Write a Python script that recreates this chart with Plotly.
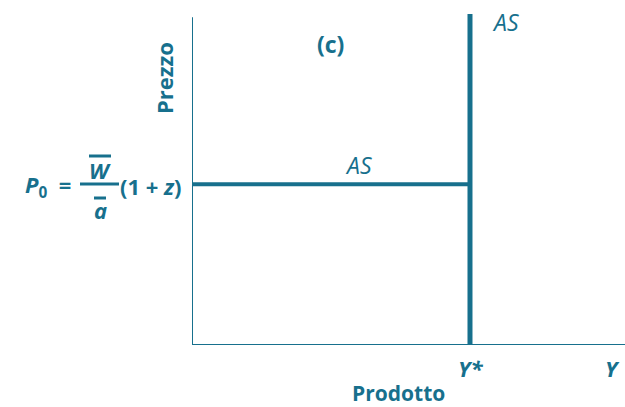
import plotly.graph_objects as go

TEAL = "#17708d"
FONT = "Open Sans, Arial"

# data (axis range 0..10 on both axes)
y_star = 6.42
p0 = 4.86
axis_x = [0, 0, 10]
axis_y = [9.9, 0, 0]
as_horiz_x = [0, y_star]
as_horiz_y = [p0, p0]
as_vert_x = [y_star, y_star]
as_vert_y = [0, 10]

fig = go.Figure()
fig.add_trace(go.Scatter(x=axis_x, y=axis_y, mode="lines",
                         line={"color": TEAL, "width": 2}, hoverinfo="skip"))
fig.add_trace(go.Scatter(x=as_horiz_x, y=as_horiz_y, mode="lines",
                         line={"color": TEAL, "width": 4}, name="AS"))
fig.add_trace(go.Scatter(x=as_vert_x, y=as_vert_y, mode="lines",
                         line={"color": TEAL, "width": 5}, name="AS"))


def px(x):
    return (x - 192) / 433


def py(y):
    return (345 - y) / 331


def label(text, x, y, size=22, xanchor="center", angle=0):
    fig.add_annotation(text=text, x=px(x), y=py(y), xref="paper", yref="paper",
                       showarrow=False, xanchor=xanchor, yanchor="middle",
                       textangle=angle, font={"color": TEAL, "size": size, "family": FONT})


label("<b>Prezzo</b>", 164, 78, angle=-90)
label("<b>(c)</b>", 330, 44, size=23)
label("<i>AS</i>", 505, 22, size=23)
label("<i>AS</i>", 358, 165, size=23)
label("<b><i>Y*</i></b>", 470, 368)
label("<b><i>Y</i></b>", 612, 368)
label("<b>Prodotto</b>", 398, 393, size=21)
label("<b><i>P</i><sub>0</sub>  =</b>", 73, 186, xanchor="right")
label("<b><i>W</i></b>", 100, 170)
label("<b><i>a</i></b>", 100, 210)
label("<b>(1 + <i>z</i>)</b>", 184, 186, xanchor="right")


def hline(x0, x1, y, w):
    fig.add_shape(type="line", xref="paper", yref="paper", x0=px(x0), x1=px(x1),
                  y0=py(y), y1=py(y), line={"color": TEAL, "width": w})


hline(80, 119, 184, 3)
hline(89, 111, 156, 3)
hline(94, 106, 198, 3)

fig.update_layout(
    width=625, height=407,
    margin={"l": 192, "r": 0, "t": 14, "b": 62},
    paper_bgcolor="white", plot_bgcolor="white",
    showlegend=False,
    xaxis={"range": [0, 10], "visible": False},
    yaxis={"range": [0, 10], "visible": False},
)

fig.write_html("out.html", config={"displayModeBar": False},
               post_script="document.body.style.margin='0';")
